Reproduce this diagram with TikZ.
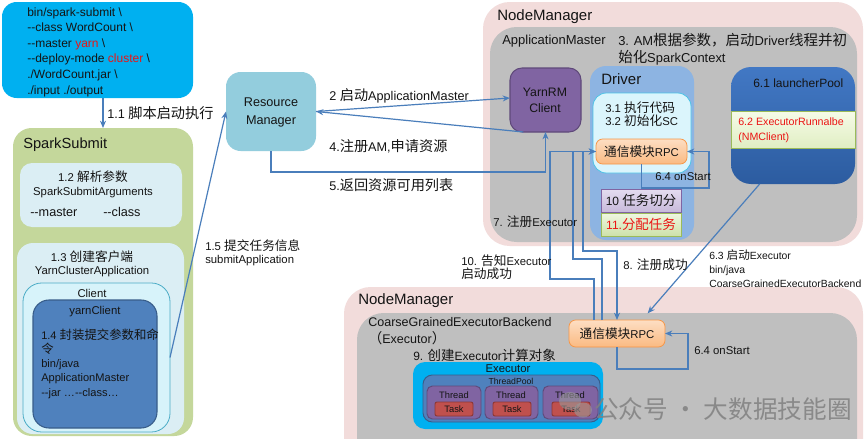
\documentclass[tikz,border=0pt]{standalone}
\usepackage{fontspec}
\setmainfont{Liberation Sans}
\newfontfamily\cjk[Scale=1.12]{Noto Sans CJK SC}
\newcommand\zh[1]{{\cjk #1}}
\newcommand\fsz[2]{\fontsize{#1}{#2}\selectfont}
\usetikzlibrary{arrows.meta,fit}
\definecolor{cmdc}{RGB}{0,176,240}
\definecolor{ssc}{RGB}{196,215,155}
\definecolor{lbc}{RGB}{219,238,244}
\definecolor{clc}{RGB}{215,243,250}
\definecolor{clb}{RGB}{75,172,198}
\definecolor{ycc}{RGB}{79,129,189}
\definecolor{ycb}{RGB}{56,93,138}
\definecolor{rmc}{RGB}{147,205,221}
\definecolor{pkc}{RGB}{242,220,219}
\definecolor{gyc}{RGB}{191,191,191}
\definecolor{purc}{RGB}{128,100,162}
\definecolor{purd}{RGB}{95,73,122}
\definecolor{drc}{RGB}{141,180,226}
\definecolor{dic}{RGB}{219,245,252}
\definecolor{dib}{RGB}{75,195,230}
\definecolor{or1}{RGB}{253,222,195}
\definecolor{or2}{RGB}{250,186,130}
\definecolor{orb}{RGB}{247,150,70}
\definecolor{lv1}{RGB}{228,220,240}
\definecolor{lv2}{RGB}{200,186,218}
\definecolor{gr1}{RGB}{240,247,225}
\definecolor{gr2}{RGB}{205,225,170}
\definecolor{grb}{RGB}{155,187,89}
\definecolor{lp1}{RGB}{66,120,196}
\definecolor{lp2}{RGB}{44,92,160}
\definecolor{yg1}{RGB}{246,251,232}
\definecolor{yg2}{RGB}{224,238,195}
\definecolor{redc}{RGB}{235,20,20}
\definecolor{arrc}{RGB}{74,126,187}
\definecolor{txtc}{RGB}{20,20,20}
\definecolor{tkc}{RGB}{192,80,77}
\definecolor{tkb}{RGB}{140,56,54}
\begin{document}
\begin{tikzpicture}[x=0.75pt,y=-0.75pt,
  bx/.style={inner sep=0pt, outer sep=0pt},
  arr/.style={draw=arrc, line width=0.9pt, -{Stealth[length=5.5pt,width=4.5pt]}},
  tx/.style={inner sep=0pt, text=txtc, font=\fsz{9}{11}},
  lt/.style={tx, anchor=west, align=left},
  rpcbox/.style={bx, top color=or1, bottom color=or2, draw=orb, line width=0.6pt, rounded corners=5pt},
  thread/.style={bx, fill=purc, draw=purd, line width=0.7pt, rounded corners=4pt},
  task/.style={bx, fill=tkc, draw=tkb, line width=0.7pt, rounded corners=1.5pt},
  small/.style={tx, font=\fsz{7}{8}}]
\useasboundingbox (0,0) rectangle (865,439);
\fill[white] (0,0) rectangle (865,439);

% ---------- command box ----------
\node[bx, fit={(2,2)(193,98)}, fill=cmdc, rounded corners=11pt] (cmd) {};
\node[lt, font=\fsz{9}{11.7}] (cmdt) at (27,52) {bin/spark-submit \textbackslash\\-{}-class WordCount \textbackslash\\-{}-master \textcolor{redc}{yarn} \textbackslash\\-{}-deploy-mode \textcolor{redc}{cluster} \textbackslash\\./WordCount.jar \textbackslash\\./input ./output};

% ---------- SparkSubmit ----------
\node[bx, fit={(13,128)(193,436)}, fill=ssc, rounded corners=14pt] (ss) {};
\node[lt, font=\fsz{11}{13}] (sst) at (23,145) {SparkSubmit};
\node[bx, fit={(20,163)(182,227)}, fill=lbc, rounded corners=9pt] (b12) {};
\node[tx, align=center, font=\fsz{8.5}{10.5}] (b12t) at (93,184) {1.2 \zh{解析参数}\\SparkSubmitArguments};
\node[lt, font=\fsz{9.5}{11}] (mst) at (30,212) {-{}-master};
\node[lt, font=\fsz{9.5}{11}] (cls) at (103,212) {-{}-class};
\node[bx, fit={(17,243)(184,434)}, fill=lbc, rounded corners=12pt] (b13) {};
\node[tx, align=center, font=\fsz{8.5}{9.75}] (b13t) at (92,263.5) {1.3 \zh{创建客户端}\\YarnClusterApplication};
\node[bx, fit={(23,283)(170,432)}, fill=clc, draw=clb, line width=0.6pt, rounded corners=14pt] (client) {};
\node[tx, font=\fsz{8.5}{10}] (clt) at (92,293) {Client};
\node[bx, fit={(33,300)(157,428)}, fill=ycc, draw=ycb, line width=0.8pt, rounded corners=12pt] (yc) {};
\node[tx, font=\fsz{8.5}{10}] (yct) at (95,312) {yarnClient};
\node[lt, font=\fsz{8.3}{10.7}] (yct2) at (41,363.5) {1.4 \zh{封装提交参数和命}\\\zh{令}\\bin/java\\ApplicationMaster\\-{}-jar \dots-{}-class\dots};

% ---------- Resource Manager ----------
\node[bx, fit={(226,72)(316,151)}, fill=rmc, rounded corners=11pt] (rm) {};
\node[tx, align=center, font=\fsz{9.5}{13.5}] (rmt) at (271,112) {Resource\\Manager};

% ---------- top NodeManager ----------
\node[bx, fit={(483,2)(863,246)}, fill=pkc, rounded corners=20pt] (nm1) {};
\node[lt, font=\fsz{11.25}{13}] (nm1t) at (497,17) {NodeManager};
\node[bx, fit={(490,27)(857,242)}, fill=gyc, rounded corners=20pt] (am) {};
\node[lt, font=\fsz{9.75}{12}] (amt) at (502,41) {ApplicationMaster};
\node[lt, font=\fsz{9.7}{12.75}] (amt3) at (618,49.5) {3. AM\zh{根据参数，启动}Driver\zh{线程并初}\\\zh{始化}SparkContext};

\node[bx, fit={(510,68)(581,132)}, fill=purc, draw=purd, line width=0.8pt, rounded corners=9pt] (yrm) {};
\node[tx, align=center, font=\fsz{9.2}{12}] (yrmt) at (545,100) {YarnRM\\Client};

\node[bx, fit={(590,66)(694,240)}, fill=drc, rounded corners=12pt] (drv) {};
\node[lt, font=\fsz{11.25}{13}] (drvt) at (601,79) {Driver};
\node[bx, fit={(593,93)(691,173)}, fill=dic, draw=dib, line width=0.6pt, rounded corners=10pt] (din) {};
\node[lt, font=\fsz{8.5}{9.75}] (dint) at (605,114.5) {3.1 \zh{执行代码}\\3.2 \zh{初始化}SC};
\node[rpcbox, fit={(596,139)(687,164)}] (drpc) {};
\node[tx, font=\fsz{8.5}{10}] (drpct) at (drpc) {\zh{通信模块}RPC};
\node[bx, fit={(601,189)(681,212)}, top color=lv1, bottom color=lv2, draw=purc, line width=0.6pt] (b10) {};
\node[tx, font=\fsz{9}{10}] (b10t) at (b10) {10 \zh{任务切分}};
\node[bx, fit={(601,213)(681,236)}, top color=gr1, bottom color=gr2, draw=grb, line width=0.6pt] (b11) {};
\node[tx, text=redc, font=\fsz{9}{10}] (b11t) at (b11) {11.\zh{分配任务}};

\node[bx, fit={(731,67)(855,184)}, top color=lp1, bottom color=lp2, rounded corners=15pt] (lp) {};
\node[lt, font=\fsz{9}{10}] (lpt) at (753,83) {6.1 launcherPool};
\node[bx, fit={(731,111)(855,148)}, top color=yg1, bottom color=yg2, draw=grb, line width=0.6pt] (er) {};
\node[lt, text=redc, font=\fsz{8}{11.25}] (ert) at (738,130.5) {6.2 ExecutorRunnalbe\\(NMClient)};

% ---------- bottom NodeManager ----------
\node[bx, fit={(344,287)(863,470)}, fill=pkc, rounded corners=20pt] (nm2) {};
\node[lt, font=\fsz{11.25}{13}] (nm2t) at (358,301) {NodeManager};
\node[bx, fit={(357,313)(857,470)}, fill=gyc, rounded corners=20pt] (cg) {};
\node[lt, font=\fsz{9.4}{12.75}] (cgt) at (368,331.5) {CoarseGrainedExecutorBackend\\\zh{（}Executor\zh{）}};
\node[lt, font=\fsz{9}{10}] (c9) at (413,355) {9. \zh{创建}Executor\zh{计算对象}};
\node[rpcbox, fit={(569,320)(665,347)}] (erpc) {};
\node[tx, font=\fsz{8.5}{10}] (erpct) at (erpc) {\zh{通信模块}RPC};

\node[bx, fit={(413,362)(603,429)}, fill=cmdc, rounded corners=9pt] (exe) {};
\node[tx, font=\fsz{8.5}{9}] (exet) at (508,369) {Executor};
\node[bx, fit={(423,375)(600,422)}, fill=ycc, draw=ycb, line width=0.7pt, rounded corners=7pt] (tp) {};
\node[tx, font=\fsz{6.5}{7}] (tpt) at (511,381) {ThreadPool};
\node[thread, fit={(427,386)(481,419)}] (th1) {};
\node[thread, fit={(485,386)(538,419)}] (th2) {};
\node[thread, fit={(543,386)(598,419)}] (th3) {};
\node[small] (th1t) at (454,395) {Thread};
\node[small] (th2t) at (511,395) {Thread};
\node[small] (th3t) at (570,395) {Thread};
\node[task, fit={(435,402)(473,416)}] (tk1) {};
\node[task, fit={(493,402)(531,416)}] (tk2) {};
\node[task, fit={(552,402)(590,416)}] (tk3) {};
\node[small] at (tk1) (tk1t) {Task};
\node[small] at (tk2) (tk2t) {Task};
\node[small] at (tk3) (tk3t) {Task};

% ---------- connectors ----------
\draw[arr] (ss.north |- cmd.south) -- (ss.north);
\draw[arr] (client.east) -- (rm.west);
\draw[arr] (rm.east) -- ([yshift=1.5pt]yrm.west);
\draw[arr] ([xshift=10pt]yrm.south west) -- (rm.east);
\draw[arr] (rm.south) -- ++(0,21) -| (yrm.south);

\draw[arr] ([xshift=-17.25pt]erpc.north) |- (550,279) |- (drpc.west);
\draw[arr] ([xshift=-11.25pt]erpc.north) |- (573,259) |- (drpc.west);
\draw[arr] (drpc.west) -| (583,251) -| (erpc.north);
\draw[arr] ([xshift=-25pt]lp.south) -- ([xshift=-13pt,yshift=5pt]erpc.north east);
\draw[arr] (drpc.south) |- (709,188) |- (drpc.east);
\draw[arr] (erpc.south) |- (688,369) |- (erpc.east);

% ---------- labels ----------
\node[lt, font=\fsz{9.5}{11}] (l11) at (107,113) {1.1 \zh{脚本启动执行}};
\node[lt, font=\fsz{8.5}{9.75}] (l15) at (205,252.5) {1.5 \zh{提交任务信息}\\submitApplication};
\node[lt, font=\fsz{9.5}{11}] (l2) at (329,96) {2 \zh{启动}ApplicationMaster};
\node[lt, font=\fsz{9.5}{11}] (l4) at (329,146) {4.\zh{注册}AM,\zh{申请资源}};
\node[lt, font=\fsz{9.5}{11}] (l5) at (329,185) {5.\zh{返回资源可用列表}};
\node[lt, font=\fsz{8.5}{10}] (l7) at (493,222) {7. \zh{注册}Executor};
\node[lt, font=\fsz{8.5}{10}] (l10) at (461,267.5) {10. \zh{告知}Executor\\\zh{启动成功}};
\node[lt, font=\fsz{8.5}{10}] (l8) at (623,265) {8. \zh{注册成功}};
\node[lt, font=\fsz{7.8}{10.5}] (l63) at (709,269) {6.3 \zh{启动}Executor\\bin/java\\CoarseGrainedExecutorBackend};
\node[lt, font=\fsz{8.5}{10}] (l64a) at (655,177) {6.4 onStart};
\node[lt, font=\fsz{8.5}{10}] (l64b) at (694,351) {6.4 onStart};

% ---------- watermark ----------
\fill[black!40, opacity=0.6] (570,401) ellipse (11 and 9);
\fill[black!40, opacity=0.6] (583,410) ellipse (9 and 7.5);
\node[lt, text=black!50, font=\cjk\fsz{16.5}{18}, opacity=0.85] (wm) at (594,409) {公众号 · 大数据技能圈};
\end{tikzpicture}
\end{document}
